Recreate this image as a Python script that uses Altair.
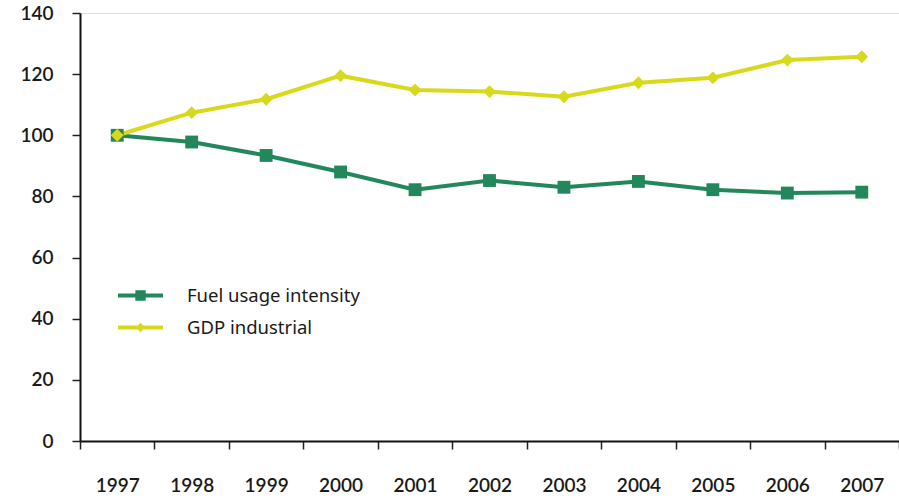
import altair as alt
import pandas as pd

# Index values, 1997 = 100
years = ["1997", "1998", "1999", "2000", "2001", "2002", "2003", "2004", "2005", "2006", "2007"]
fuel_intensity = [100, 97.8, 93.4, 88.0, 82.2, 85.2, 83.0, 84.9, 82.2, 81.1, 81.4]
gdp_industrial = [100, 107.4, 111.8, 119.5, 114.8, 114.3, 112.6, 117.2, 118.8, 124.6, 125.7]

series_names = ["Fuel usage intensity", "GDP industrial"]
series_colors = ["#22875A", "#D9D91C"]
marker_shapes = ["square", "diamond"]
# legend glyphs: a short line with the series marker on it
legend_glyphs = [
    "M-1,-0.09H1V0.09H-1Z M-0.23,-0.23H0.23V0.23H-0.23Z",
    "M-1,-0.09H1V0.09H-1Z M0,-0.21L0.21,0L0,0.21L-0.21,0Z",
]
y_ticks = [0, 20, 40, 60, 80, 100, 120, 140]

rows = []
for name, values in zip(series_names, [fuel_intensity, gdp_industrial]):
    for i, (yr, v) in enumerate(zip(years, values)):
        rows.append({"year": yr, "value": v, "series": name, "idx": i})
df = pd.DataFrame(rows)

FONT = "Lato"

x_enc = alt.X(
    "year:O",
    scale=alt.Scale(type="band", domain=years, paddingInner=0, paddingOuter=0),
    bandPosition=0.5,
    axis=alt.Axis(
        title=None,
        labelAngle=0,
        tickBand="extent",
        tickSize=8,
        tickWidth=1.5,
        tickColor="#222222",
        domainColor="#111111",
        domainWidth=2,
        labelFont=FONT,
        labelFontSize=19,
        labelFontWeight=600,
        labelColor="#1a1a1a",
        labelPadding=27,
        grid=False,
    ),
)
y_enc = alt.Y(
    "value:Q",
    scale=alt.Scale(domain=[0, 140], nice=False),
    axis=alt.Axis(
        title=None,
        values=y_ticks,
        tickSize=8,
        tickWidth=1.5,
        tickColor="#222222",
        domainColor="#111111",
        domainWidth=2,
        labelFont=FONT,
        labelFontSize=19,
        labelFontWeight=600,
        labelColor="#1a1a1a",
        labelPadding=19,
        grid=False,
    ),
)

color_scale = alt.Scale(domain=series_names, range=series_colors)

legend_props = dict(
    title=None,
    orient="none",
    legendX=38,
    legendY=260,
    symbolSize=2025,
    symbolOpacity=1,
    symbolStrokeWidth=0,
    labelFont="Noto Sans",
    labelFontSize=18.5,
    labelColor="#1a1a1a",
    labelOffset=24,
    labelLimit=0,
    rowPadding=0,
)

base = alt.Chart(df)

lines = base.mark_line(strokeWidth=4).encode(
    x=x_enc,
    y=y_enc,
    color=alt.Color("series:N", scale=color_scale, legend=None),
    detail="series:N",
    order="idx:Q",
)

points = base.mark_point(filled=True, opacity=1, size=165).encode(
    x=x_enc,
    y=y_enc,
    color=alt.Color("series:N", scale=color_scale, legend=None),
    shape=alt.Shape("series:N", scale=alt.Scale(domain=series_names, range=marker_shapes), legend=None),
)

legend_layer = base.mark_point(filled=True, opacity=0).encode(
    x=x_enc,
    y=y_enc,
    color=alt.Color("series:N", scale=color_scale, legend=alt.Legend(**legend_props)),
    shape=alt.Shape(
        "series:N",
        scale=alt.Scale(domain=series_names, range=legend_glyphs),
        legend=alt.Legend(**legend_props),
    ),
)

chart = (
    alt.layer(lines, points, legend_layer)
    .resolve_scale(color="independent", shape="independent")
    .properties(
        width=819,
        height=428,
        padding={"left": 80, "top": 13, "right": 0, "bottom": 59},
        autosize="none",
    )
    .configure_view(stroke=None)
    .configure(background="white")
)

chart.save("out.html", embed_options={"renderer": "svg", "actions": False})
